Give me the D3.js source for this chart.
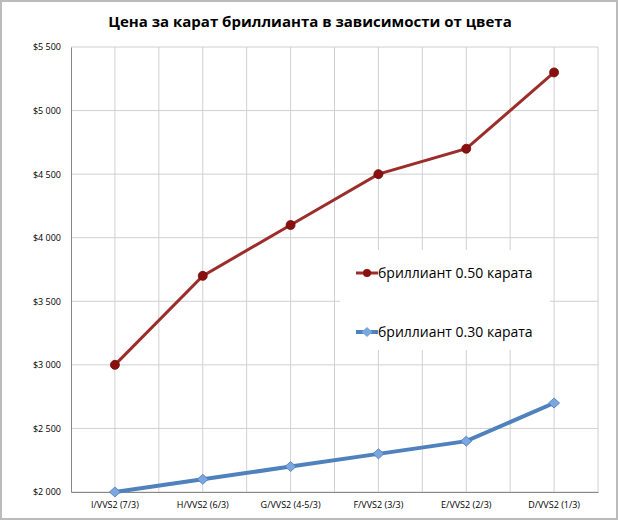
<!DOCTYPE html>
<html>
<head>
<meta charset="utf-8">
<script src="https://cdn.jsdelivr.net/npm/d3@7"></script>
<style>
  body { margin: 0; background: #fff; }
  text { font-family: "Open Sans", "DejaVu Sans", sans-serif; }
</style>
</head>
<body>
<svg id="chart" width="618" height="520"></svg>
<script>
const categories = ["I/VVS2 (7/3)", "H/VVS2 (6/3)", "G/VVS2 (4-5/3)", "F/VVS2 (3/3)", "E/VVS2 (2/3)", "D/VVS2 (1/3)"];
const carat050 = [3000, 3700, 4100, 4500, 4700, 5300];
const carat030 = [2000, 2100, 2200, 2300, 2400, 2700];
const yTicks = [2000, 2500, 3000, 3500, 4000, 4500, 5000, 5500];

const svg = d3.select("#chart");
const margin = { left: 71, right: 20, top: 47, bottom: 28 };
const W = 618, H = 520;

svg.append("rect")
  .attr("x", 1).attr("y", 1).attr("width", W - 2).attr("height", H - 2)
  .attr("fill", "#fff").attr("stroke", "#bbb").attr("stroke-width", 2);

const x = d3.scaleBand().domain(categories).range([margin.left, W - margin.right]);
const y = d3.scaleLinear().domain([2000, 5500]).range([H - margin.bottom, margin.top]);

const fmt = v => "$" + d3.format(",")(v).replace(",", " ");

// grid
const g = svg.append("g");
yTicks.forEach(t => {
  g.append("line").attr("x1", margin.left).attr("x2", W - margin.right)
    .attr("y1", y(t)).attr("y2", y(t)).attr("stroke", "#d0d0d0");
});
categories.forEach(c => {
  [x(c) + x.bandwidth() / 2, x(c) + x.bandwidth()].forEach(px => {
    g.append("line").attr("x1", px).attr("x2", px)
      .attr("y1", margin.top).attr("y2", H - margin.bottom).attr("stroke", "#d0d0d0");
  });
});

// legend box (covers grid)
svg.append("rect").attr("x", 340).attr("y", 250).attr("width", 210).attr("height", 100).attr("fill", "#fff");

// axes
const yAxis = svg.append("g").attr("transform", `translate(${margin.left},0)`)
  .call(d3.axisLeft(y).tickValues(yTicks).tickFormat(fmt).tickSize(0).tickPadding(10));
yAxis.select(".domain").attr("stroke", "#888");
yAxis.selectAll("text").attr("font-size", 9).attr("fill", "#000");

const xAxis = svg.append("g").attr("transform", `translate(0,${H - margin.bottom})`)
  .call(d3.axisBottom(x).tickSize(0).tickPadding(10));
xAxis.select(".domain").attr("stroke", "#888");
xAxis.selectAll("text").attr("font-size", 9).attr("fill", "#000");

// title
svg.append("text").attr("x", 310).attr("y", 27).attr("text-anchor", "middle")
  .attr("font-size", 15).attr("font-weight", "bold").text("Цена за карат бриллианта в зависимости от цвета");

const line = d3.line().x((d, i) => x(categories[i]) + x.bandwidth() / 2).y(d => y(d));

const red = "#9b2d2a", redDot = "#8b0f0f", blue = "#4f81bd", blueDot = "#7aa7e0";
const diamond = "M0,-5L5.5,0L0,5L-5.5,0Z";

svg.append("path").datum(carat050).attr("d", line)
  .attr("fill", "none").attr("stroke", red).attr("stroke-width", 3);
svg.selectAll(".p50").data(carat050).join("circle")
  .attr("cx", (d, i) => x(categories[i]) + x.bandwidth() / 2).attr("cy", d => y(d))
  .attr("r", 4.5).attr("fill", redDot).attr("stroke", "#6a0a0a").attr("stroke-width", 0.8);

svg.append("path").datum(carat030).attr("d", line)
  .attr("fill", "none").attr("stroke", blue).attr("stroke-width", 4);
svg.selectAll(".p30").data(carat030).join("path")
  .attr("transform", (d, i) => `translate(${x(categories[i]) + x.bandwidth() / 2},${y(d)})`)
  .attr("d", diamond).attr("fill", blueDot).attr("stroke", "#4a78b5").attr("stroke-width", 0.8);

// legend
const legend = [
  { label: "бриллиант 0.50 карата", color: red, y: 273, dot: "circle" },
  { label: "бриллиант 0.30 карата", color: blue, y: 332, dot: "diamond" }
];
legend.forEach(l => {
  svg.append("line").attr("x1", 356).attr("x2", 378).attr("y1", l.y).attr("y2", l.y)
    .attr("stroke", l.color).attr("stroke-width", l.dot === "circle" ? 3 : 4);
  if (l.dot === "circle") {
    svg.append("circle").attr("cx", 367).attr("cy", l.y).attr("r", 4).attr("fill", redDot);
  } else {
    svg.append("path").attr("transform", `translate(367,${l.y})`).attr("d", diamond).attr("fill", blueDot);
  }
  svg.append("text").attr("x", 378).attr("y", l.y + 5).attr("font-size", 14).text(l.label);
});
</script>
</body>
</html>
